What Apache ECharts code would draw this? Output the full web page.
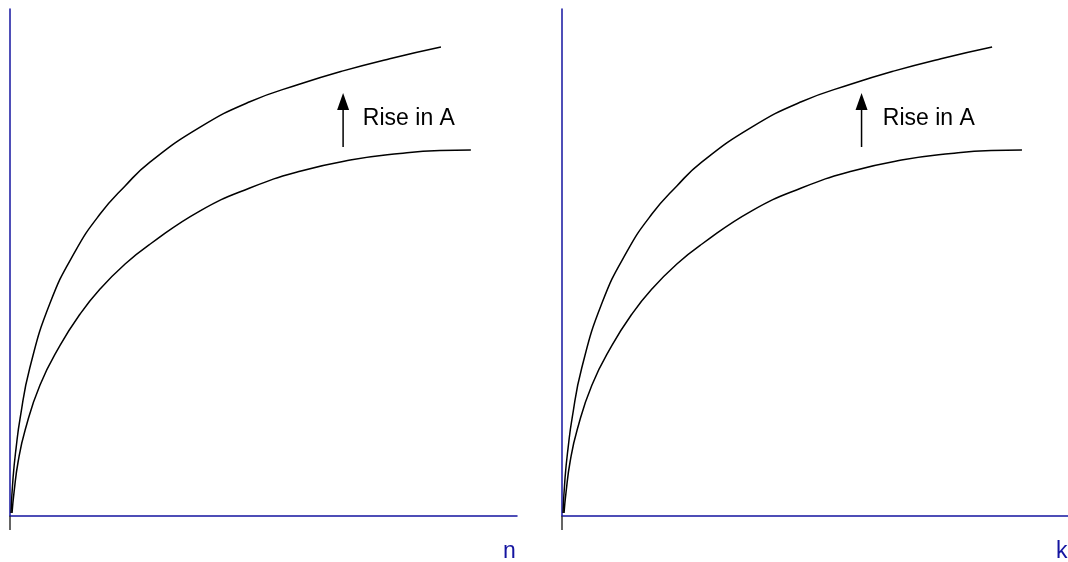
<!DOCTYPE html>
<html>
<head>
<meta charset="utf-8">
<script src="https://cdn.jsdelivr.net/npm/echarts@6/dist/echarts.min.js"></script>
<style>
html,body{margin:0;padding:0;background:#fff;}
#chart{width:1068px;height:562px;}
</style>
</head>
<body>
<div id="chart"></div>
<script>
// ---- data (axis units 0..100 on both axes) ----
const upperX = [0.2, 0.6, 1.2, 2.0, 3.9, 7.9, 12.8, 17.8, 22.7, 27.6, 37.5, 47.3, 57.2, 65.7, 74.9, 85.0];
const upperY = [0.6, 7.5, 13.4, 19.3, 29.2, 42.0, 52.1, 59.6, 65.1, 69.8, 76.7, 81.7, 85.2, 87.8, 90.2, 92.5];
const lowerX = [0.4, 0.8, 1.6, 3.0, 5.9, 9.9, 13.8, 17.8, 22.7, 27.6, 37.5, 47.3, 57.2, 67.1, 76.9, 84.8, 90.9];
const lowerY = [0.6, 4.7, 10.7, 17.0, 25.8, 33.7, 39.8, 44.8, 49.7, 53.6, 60.2, 64.7, 68.0, 70.2, 71.5, 72.1, 72.2];
const axisNames = ['n', 'k'];
const arrowX = [65.7, 59.2];          // arrow position in each panel
const arrowShaft = [72.8, 80.1];      // shaft bottom, shaft top
const arrowHeadY = 81.75;             // centre of arrow head
const annotText = 'Rise in A';
const annotX = [69.6, 63.4];
const annotY = 78.3;

const AXIS_COLOR = '#1414a0';
const FONT = '"Liberation Sans", Arial, sans-serif';

function zip(xs, ys) { return xs.map((x, i) => [x, ys[i]]); }

const grids = [
  { left: 10, top: 9, width: 507, height: 507 },
  { left: 562, top: 9, width: 507, height: 507 }
];
const xAxes = [], yAxes = [], series = [];
grids.forEach((g, i) => {
  xAxes.push({
    gridIndex: i, type: 'value', min: 0, max: 100,
    axisLine: { show: true, onZero: false, lineStyle: { color: AXIS_COLOR, width: 1.5 } },
    axisTick: { show: true, customValues: [0], length: 14, lineStyle: { color: '#333', width: 1.5 } },
    axisLabel: { show: false }, splitLine: { show: false }
  });
  yAxes.push({
    gridIndex: i, type: 'value', min: 0, max: 100,
    axisLine: { show: true, onZero: false, lineStyle: { color: AXIS_COLOR, width: 1.5 } },
    axisTick: { show: false }, axisLabel: { show: false }, splitLine: { show: false }
  });
  const common = { xAxisIndex: i, yAxisIndex: i, silent: true, animation: false };
  series.push(Object.assign({
    type: 'line', data: zip(upperX, upperY), smooth: 0.5, symbol: 'none',
    lineStyle: { color: '#000', width: 1.5 }
  }, common));
  series.push(Object.assign({
    type: 'line', data: zip(lowerX, lowerY), smooth: 0.5, symbol: 'none',
    lineStyle: { color: '#000', width: 1.5 }
  }, common));
  // arrow shaft
  series.push(Object.assign({
    type: 'line', data: [[arrowX[i], arrowShaft[0]], [arrowX[i], arrowShaft[1]]], symbol: 'none',
    lineStyle: { color: '#000', width: 1.5 }
  }, common));
  // arrow head
  series.push(Object.assign({
    type: 'scatter', data: [[arrowX[i], arrowHeadY]], symbol: 'triangle', symbolSize: [12, 17],
    itemStyle: { color: '#000', opacity: 1 }
  }, common));
  // annotation
  series.push(Object.assign({
    type: 'scatter', data: [[annotX[i], annotY]], symbolSize: 0,
    itemStyle: { opacity: 1 },
    label: { show: true, position: 'right', distance: 0, formatter: annotText,
      color: '#000', opacity: 1, fontSize: 23, fontFamily: FONT }
  }, common));
});

const chart = echarts.init(document.getElementById('chart'), null, { renderer: 'canvas' });
chart.setOption({
  backgroundColor: '#fff',
  animation: false,
  grid: grids,
  xAxis: xAxes,
  yAxis: yAxes,
  series: series,
  graphic: [
    { type: 'text', left: 503, top: 540, style: { text: axisNames[0], fill: AXIS_COLOR, font: '23px ' + FONT } },
    { type: 'text', left: 1056, top: 540, style: { text: axisNames[1], fill: AXIS_COLOR, font: '23px ' + FONT } }
  ]
});
</script>
</body>
</html>
